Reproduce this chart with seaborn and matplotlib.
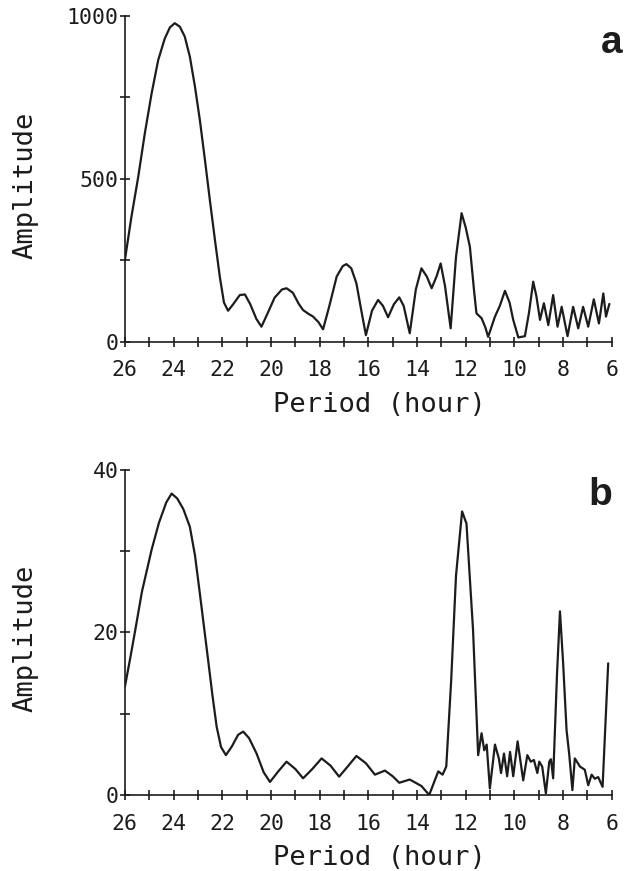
import matplotlib
matplotlib.use("Agg")
import matplotlib.pyplot as plt
import pandas as pd
import seaborn as sns
from matplotlib.ticker import MultipleLocator

# Periodogram of circulating hormone levels: amplitude vs. period (hours)
period_a = [26.0, 25.73, 25.45, 25.18, 24.9, 24.63, 24.36, 24.15, 23.95, 23.74,
            23.54, 23.33, 23.12, 22.92, 22.71, 22.51, 22.3, 22.1, 21.93, 21.76,
            21.55, 21.28, 21.07, 20.85, 20.6, 20.39, 20.15, 19.85, 19.55, 19.36,
            19.1, 18.85, 18.68, 18.45, 18.27, 18.05, 17.86, 17.6, 17.3, 17.05,
            16.9, 16.7, 16.49, 16.3, 16.1, 15.85, 15.6, 15.4, 15.19, 14.95,
            14.73, 14.55, 14.3, 14.05, 13.82, 13.6, 13.4, 13.2, 13.03, 12.85,
            12.62, 12.4, 12.17, 12.0, 11.83, 11.65, 11.56, 11.35, 11.2, 11.08,
            10.8, 10.6, 10.39, 10.2, 10.05, 9.84, 9.57, 9.4, 9.23, 9.1,
            8.95, 8.79, 8.61, 8.41, 8.23, 8.06, 7.82, 7.59, 7.38, 7.18,
            6.97, 6.74, 6.53, 6.35, 6.24, 6.1]
amp_a = [250, 383, 506, 639, 762, 864, 930, 964, 977, 966,
         936, 874, 782, 680, 557, 435, 312, 199, 120, 95,
         115, 143, 145, 115, 70, 46, 85, 135, 160, 164,
         150, 115, 97, 85, 77, 60, 38, 110, 200, 232,
         238, 225, 179, 100, 20, 95, 128, 110, 75, 115,
         136, 110, 26, 160, 225, 200, 164, 200, 240, 170,
         41, 260, 394, 350, 291, 150, 87, 72, 45, 15,
         77, 110, 156, 120, 67, 13, 17, 90, 184, 140,
         67, 118, 51, 143, 46, 107, 17, 107, 41, 107,
         46, 130, 56, 148, 77, 116]

period_b = [26.0, 25.8, 25.59, 25.3, 24.9, 24.6, 24.3, 24.08, 23.85, 23.6,
            23.33, 23.12, 22.92, 22.75, 22.58, 22.4, 22.23, 22.05, 21.85, 21.6,
            21.35, 21.14, 20.9, 20.59, 20.3, 20.04, 19.7, 19.36, 19.0, 18.68,
            18.3, 17.92, 17.55, 17.2, 16.85, 16.49, 16.1, 15.73, 15.32, 15.0,
            14.73, 14.3, 13.82, 13.5, 13.13, 12.95, 12.8, 12.6, 12.4, 12.15,
            11.97, 11.7, 11.49, 11.35, 11.24, 11.14, 11.01, 10.8, 10.64, 10.55,
            10.43, 10.3, 10.18, 10.05, 9.87, 9.64, 9.47, 9.33, 9.2, 9.06,
            8.98, 8.86, 8.71, 8.57, 8.5, 8.41, 8.25, 8.13, 8.0, 7.86,
            7.75, 7.62, 7.52, 7.31, 7.11, 6.97, 6.83, 6.7, 6.56, 6.38,
            6.15]
amp_b = [13.3, 16.5, 20.0, 25.0, 30.2, 33.5, 36.0, 37.1, 36.5, 35.2,
         33.0, 29.5, 24.8, 20.7, 16.6, 12.2, 8.4, 5.9, 4.9, 6.0,
         7.4, 7.8, 7.0, 5.1, 2.8, 1.6, 2.9, 4.1, 3.2, 2.05,
         3.2, 4.5, 3.6, 2.25, 3.5, 4.8, 3.9, 2.5, 3.0, 2.3,
         1.5, 1.9, 1.1, 0.0, 2.9, 2.5, 3.5, 14.0, 27.0, 34.9,
         33.4, 20.3, 4.9, 7.6, 5.5, 6.2, 0.8, 6.2, 4.5, 2.7,
         5.1, 2.3, 5.3, 2.3, 6.6, 1.8, 4.9, 4.1, 4.3, 2.7,
         4.1, 3.5, 0.2, 4.1, 4.4, 2.05, 15.0, 22.6, 16.2, 8.0,
         5.0, 0.6, 4.5, 3.5, 3.1, 1.2, 2.5, 2.0, 2.2, 1.0,
         16.2]

df_a = pd.DataFrame({"period": period_a, "amplitude": amp_a})
df_b = pd.DataFrame({"period": period_b, "amplitude": amp_b})

sns.set_style("ticks")
plt.rcParams["font.family"] = ["DejaVu Sans Mono", "DejaVu Sans"]

INK = "#1c1c1c"

fig = plt.figure(figsize=(6.37, 8.71), dpi=100)
ax_a = fig.add_axes([0.196, 0.6077, 0.7645, 0.3743])
ax_b = fig.add_axes([0.196, 0.0873, 0.7645, 0.3731])


def style_panel(ax, ymax, ymajor, yminor, ylab_y):
    ax.set_xlim(26, 6)
    ax.set_ylim(0, ymax)
    ax.xaxis.set_major_locator(MultipleLocator(2))
    ax.xaxis.set_minor_locator(MultipleLocator(1))
    ax.yaxis.set_major_locator(MultipleLocator(ymajor))
    ax.yaxis.set_minor_locator(MultipleLocator(yminor))
    for side in ("top", "right"):
        ax.spines[side].set_visible(False)
    for side in ("left", "bottom"):
        ax.spines[side].set_color(INK)
        ax.spines[side].set_linewidth(1.2)
    ax.tick_params(which="both", direction="inout", length=7, width=1.2,
                   color=INK, labelcolor=INK, labelsize=15.5)
    ax.tick_params(axis="x", which="major", pad=10)
    ax.tick_params(axis="y", which="major", pad=1)
    ax.set_xlabel("Period (hour)", fontsize=19.5, color=INK, va="top")
    ax.xaxis.set_label_coords(0.522, -0.155)
    ax.set_ylabel("Amplitude", fontsize=19.5, color=INK, va="center")
    ax.yaxis.set_label_coords(-0.205, ylab_y)
    ax.set_facecolor("white")


sns.lineplot(data=df_a, x="period", y="amplitude", ax=ax_a, sort=False,
             color=INK, linewidth=1.6)
style_panel(ax_a, 1000, 500, 250, 0.48)

sns.lineplot(data=df_b, x="period", y="amplitude", ax=ax_b, sort=False,
             color=INK, linewidth=1.6)
style_panel(ax_b, 40, 20, 10, 0.483)

fig.text(0.961, 0.939, "a", family="Liberation Sans", weight="bold",
         fontsize=28, ha="center", va="baseline", color=INK)
fig.text(0.942, 0.4202, "b", family="Liberation Sans", weight="bold",
         fontsize=28, ha="center", va="baseline", color=INK)

fig.savefig("out.png", dpi=100, facecolor="white")
